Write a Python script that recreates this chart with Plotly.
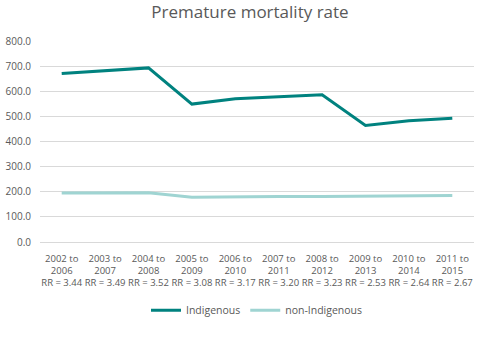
import plotly.graph_objects as go

periods = ["2002 to<br>2006", "2003 to<br>2007", "2004 to<br>2008", "2005 to<br>2009", "2006 to<br>2010",
           "2007 to<br>2011", "2008 to<br>2012", "2009 to<br>2013", "2010 to<br>2014", "2011 to<br>2015"]
rr = ["3.44", "3.49", "3.52", "3.08", "3.17", "3.20", "3.23", "2.53", "2.64", "2.67"]
indigenous = [671, 682, 693, 549, 570, 578, 586, 464, 483, 493]
non_indigenous = [195, 195, 196, 178, 180, 181, 181, 183, 183, 185]

cats = [f"{p}<br>RR = {r}" for p, r in zip(periods, rr)]

fig = go.Figure()
fig.add_trace(go.Scatter(x=cats, y=indigenous, mode="lines", name="Indigenous",
                         line=dict(color="#00827F", width=3)))
fig.add_trace(go.Scatter(x=cats, y=non_indigenous, mode="lines", name="non-Indigenous",
                         line=dict(color="#9FD4D2", width=3)))

fig.update_layout(
    width=500, height=342,
    margin=dict(l=40, r=26, t=41, b=100),
    paper_bgcolor="white", plot_bgcolor="white",
    font=dict(family="Open Sans", size=9.5, color="#595959"),
    title=dict(text="Premature mortality rate", x=0.5, xanchor="center", y=0.965, yanchor="middle",
               font=dict(size=17, color="#595959")),
    xaxis=dict(showgrid=False, showline=False, ticks="", tickangle=0, range=[-0.5, 9.5],
               tickfont=dict(size=9.5), automargin=False, ticklabelstandoff=9),
    yaxis=dict(range=[0, 800], dtick=100, tickformat=".1f", showgrid=True, gridcolor="#D9D9D9",
               gridwidth=1, zeroline=True, zerolinecolor="#D9D9D9", zerolinewidth=1,
               ticks="", tickfont=dict(size=10), automargin=False, ticklabelstandoff=8),
    legend=dict(orientation="h", x=0.5, xanchor="center", y=-0.34, yanchor="middle",
                font=dict(size=10.5)),
    showlegend=True,
)

fig.write_html("out.html")
